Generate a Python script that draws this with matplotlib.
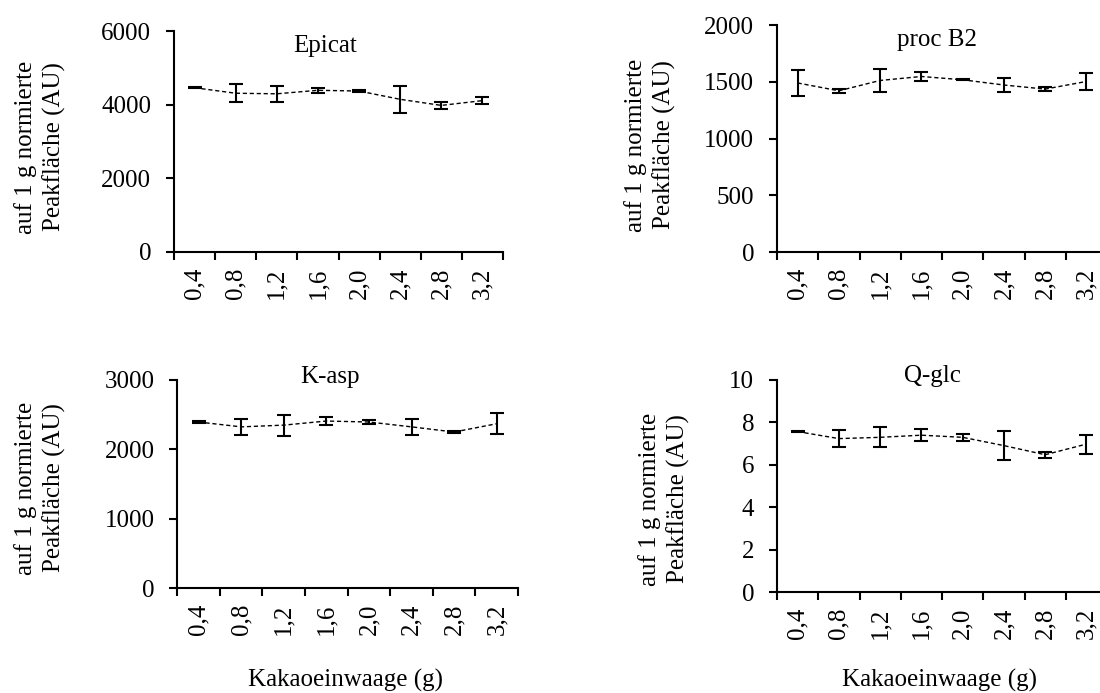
import numpy as np
import matplotlib
matplotlib.use("Agg")
import matplotlib.pyplot as plt

plt.rcParams['font.family'] = ['Liberation Serif', 'DejaVu Serif']
plt.rcParams['font.size'] = 18

# Kakaoeinwaage in g
einwaage = ["0,4", "0,8", "1,2", "1,6", "2,0", "2,4", "2,8", "3,2"]

# Mittelwerte und Standardabweichungen der normierten Peakflaechen
epicat_mw = [4460, 4310, 4295, 4390, 4370, 4145, 3980, 4110]
epicat_sd = [20, 245, 220, 65, 30, 360, 100, 100]

procb2_mw = [1490, 1421, 1512, 1547, 1518, 1472, 1436, 1503]
procb2_sd = [115, 20, 100, 42, 5, 65, 15, 77]

kasp_mw = [2395, 2325, 2350, 2409, 2395, 2325, 2251, 2370]
kasp_sd = [20, 120, 150, 60, 25, 115, 15, 150]

qglc_mw = [7.57, 7.24, 7.30, 7.40, 7.30, 6.91, 6.48, 6.98]
qglc_sd = [0.04, 0.40, 0.47, 0.28, 0.15, 0.70, 0.14, 0.45]

W, H = 1100, 693
fig = plt.figure(figsize=(W / 100, H / 100), dpi=100)


def px_axes(x0, x1, ytop, ybot):
    return fig.add_axes([x0 / W, (H - ybot) / H, (x1 - x0) / W, (ybot - ytop) / H])


def panel(ax, mw, sd, ymax, yticks, title, tx, ty):
    x = np.arange(len(mw))
    ax.plot(x, mw, color='black', lw=1.0, ls=(0, (3, 2)))
    ax.errorbar(x, mw, yerr=sd, fmt='none', ecolor='black', elinewidth=1.5,
                capsize=4.7, capthick=1.5)
    ax.set_xlim(-0.5, len(mw) - 0.5)
    ax.set_ylim(0, ymax)
    ax.set_yticks(yticks)
    # Striche an den Klassengrenzen, Beschriftung in der Mitte
    ax.set_xticks(np.arange(len(mw) + 1) - 0.5)
    ax.set_xticklabels([])
    ax.set_xticks(x, minor=True)
    ax.set_xticklabels(einwaage, minor=True, rotation=90)
    ax.tick_params(axis='x', which='major', direction='out', length=6, width=1.5)
    ax.tick_params(axis='x', which='minor', length=0, pad=11)
    ax.tick_params(axis='y', direction='out', length=5.5, width=1.5, pad=11)
    for s in ('top', 'right'):
        ax.spines[s].set_visible(False)
    for s in ('left', 'bottom'):
        ax.spines[s].set_linewidth(1.5)
    ax.text(tx, ty, title, transform=ax.transAxes, ha='center', va='baseline')


ylabel = "auf 1 g normierte\nPeakfläche (AU)"


def y_label(xc, yc):
    fig.text(xc / W, (H - yc) / H, ylabel, rotation=90, ha='center', va='center',
             linespacing=1.35)


ax1 = px_axes(174, 503, 31, 252)
panel(ax1, epicat_mw, epicat_sd, 6000, [0, 2000, 4000, 6000], "Epicat", 0.459, 0.905)
y_label(40, 147)

ax2 = px_axes(777, 1107, 25, 252.3)
panel(ax2, procb2_mw, procb2_sd, 2000, [0, 500, 1000, 1500, 2000], "proc B2", 0.485, 0.908)
y_label(650, 145)

ax3 = px_axes(177.3, 518, 380, 588.3)
panel(ax3, kasp_mw, kasp_sd, 3000, [0, 1000, 2000, 3000], "K-asp", 0.449, 0.984)
y_label(40, 488)
fig.text(345 / W, (H - 680) / H, "Kakaoeinwaage (g)", ha='center', va='center')

ax4 = px_axes(777, 1107, 380, 592.3)
panel(ax4, qglc_mw, qglc_sd, 10, [0, 2, 4, 6, 8, 10], "Q-glc", 0.47, 0.992)
y_label(664, 499)
fig.text(940 / W, (H - 680) / H, "Kakaoeinwaage (g)", ha='center', va='center')

fig.savefig("out.png", dpi=100)
